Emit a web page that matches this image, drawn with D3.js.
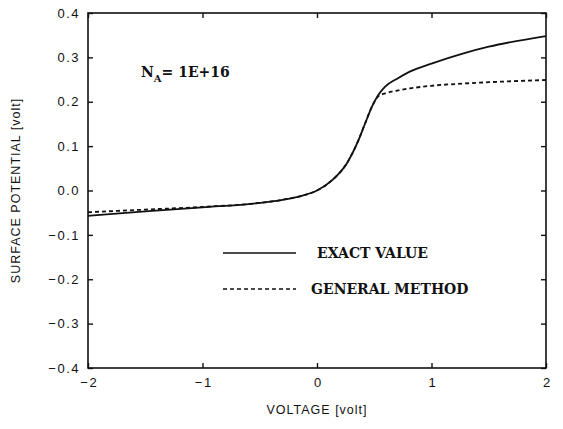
<!DOCTYPE html>
<html lang="en">
  <head>
    <meta charset="UTF-8" />
    <script src="https://cdn.jsdelivr.net/npm/d3@7"></script>
    <title>Surface potential</title>
    <style>
      body { margin: 0; background: white; }
      .tick text { font-family: "Liberation Sans", Arial, sans-serif; font-size: 13px; fill: #111; letter-spacing: 1.5px; }
      .serif { font-family: "DejaVu Serif", serif; font-weight: bold; fill: #111; }
      .title { font-family: "Liberation Sans", Arial, sans-serif; font-size: 12.5px; fill: #111; letter-spacing: 1px; }
    </style>
  </head>
  <body>
    <script>
      // ---------------- data ----------------
      const voltage = [-2, -1.5, -1, -0.5, -0.3, -0.15, 0, 0.14, 0.26, 0.35, 0.42, 0.48, 0.535, 0.595, 0.7, 0.81, 1.0, 1.28, 1.5, 2.0];
      const exactValue = [-0.057, -0.047, -0.038, -0.028, -0.021, -0.013, 0.000, 0.025, 0.061, 0.106, 0.151, 0.189, 0.215, 0.234, 0.252, 0.268, 0.286, 0.309, 0.324, 0.348];
      const generalMethod = [-0.049, -0.043, -0.037, -0.028, -0.021, -0.013, 0.000, 0.025, 0.061, 0.106, 0.151, 0.189, 0.212, 0.219, 0.225, 0.230, 0.236, 0.241, 0.244, 0.249];
      const xTicks = [-2, -1, 0, 1, 2];
      const yTicks = [-0.4, -0.3, -0.2, -0.1, 0.0, 0.1, 0.2, 0.3, 0.4];
      const legendLabels = ["EXACT VALUE", "GENERAL METHOD"];

      // ---------------- layout ----------------
      const W = 563, H = 429;
      const plot = { left: 88, right: 546, top: 13, bottom: 368 };

      const x = d3.scaleLinear().domain([-2, 2]).range([plot.left, plot.right]);
      const y = d3.scaleLinear().domain([-0.4, 0.4]).range([plot.bottom, plot.top]);

      const svg = d3.select("body").append("svg").attr("width", W).attr("height", H);

      // frame
      svg.append("rect")
        .attr("x", plot.left).attr("y", plot.top)
        .attr("width", plot.right - plot.left).attr("height", plot.bottom - plot.top)
        .attr("fill", "none").attr("stroke", "#111").attr("stroke-width", 1.6);

      // axes with inward ticks
      const fmtY = (d) => (d < 0 ? "\u2212" : "") + Math.abs(d).toFixed(1);
      const fmtX = (d) => (d < 0 ? "\u2212" : "") + Math.abs(d);

      const gLeft = svg.append("g").attr("transform", `translate(${plot.left},0)`)
        .call(d3.axisLeft(y).tickValues(yTicks).tickFormat(fmtY).tickSize(-5).tickPadding(8));
      const gRight = svg.append("g").attr("transform", `translate(${plot.right},0)`)
        .call(d3.axisRight(y).tickValues(yTicks).tickFormat("").tickSize(-5));
      const gBottom = svg.append("g").attr("transform", `translate(0,${plot.bottom})`)
        .call(d3.axisBottom(x).tickValues(xTicks).tickFormat(fmtX).tickSize(-5).tickPadding(10));
      const gTop = svg.append("g").attr("transform", `translate(0,${plot.top})`)
        .call(d3.axisTop(x).tickValues(xTicks).tickFormat("").tickSize(-5));

      [gLeft, gRight, gBottom, gTop].forEach((g) => {
        g.select(".domain").remove();
        g.selectAll(".tick line").attr("stroke", "#111").attr("stroke-width", 1.4);
      });
      // letter-spacing adds room after the last glyph, pull centred labels back
      gBottom.selectAll(".tick text").attr("dx", 0.75);

      // curves
      const line = d3.line().x((d) => x(d[0])).y((d) => y(d[1])).curve(d3.curveMonotoneX);

      svg.append("path")
        .datum(d3.zip(voltage, generalMethod))
        .attr("d", line)
        .attr("fill", "none").attr("stroke", "#111").attr("stroke-width", 1.8)
        .attr("stroke-dasharray", "4,3");

      svg.append("path")
        .datum(d3.zip(voltage, exactValue))
        .attr("d", line)
        .attr("fill", "none").attr("stroke", "#111").attr("stroke-width", 1.8);

      // annotation N_A = 1E+16
      const ann = svg.append("text").attr("class", "serif")
        .attr("x", 141).attr("y", 77).attr("font-size", 14);
      ann.append("tspan").text("N");
      ann.append("tspan").attr("dy", 5).attr("font-size", 10).text("A");
      ann.append("tspan").attr("dy", -5).text("= 1E+16");

      // legend
      const legend = svg.append("g");
      legendLabels.forEach((label, i) => {
        const ly = 253 + i * 36;
        legend.append("line")
          .attr("x1", 223).attr("x2", 296).attr("y1", ly).attr("y2", ly)
          .attr("stroke", "#111").attr("stroke-width", 1.6)
          .attr("stroke-dasharray", i === 1 ? "4,3" : null);
        legend.append("text").attr("class", "serif")
          .attr("x", i === 0 ? 317 : 311).attr("y", ly + 5).attr("font-size", 14)
          .text(label);
      });

      // axis titles
      svg.append("text").attr("class", "title")
        .attr("x", (plot.left + plot.right) / 2).attr("y", 414)
        .attr("text-anchor", "middle")
        .text("VOLTAGE [volt]");

      svg.append("text").attr("class", "title")
        .attr("transform", `translate(20,${(plot.top + plot.bottom) / 2}) rotate(-90)`)
        .attr("text-anchor", "middle")
        .text("SURFACE POTENTIAL [volt]");
    </script>
  </body>
</html>
